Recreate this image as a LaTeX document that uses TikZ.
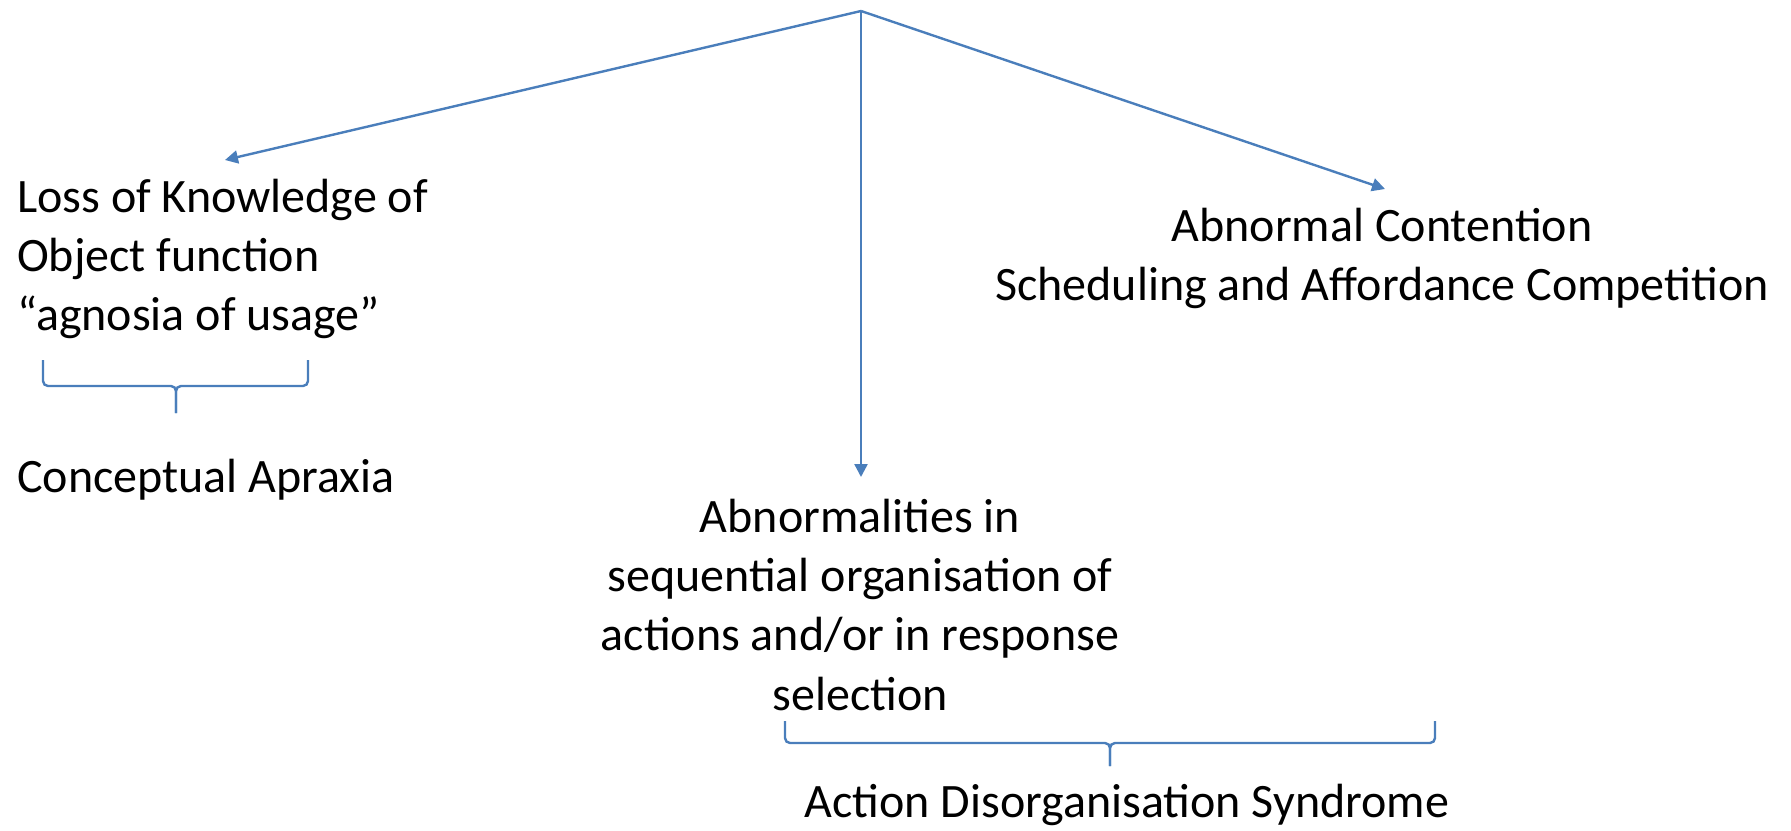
\documentclass[tikz,border=0pt]{standalone}
\usepackage{fontspec}
\setmainfont{Carlito}
\usepackage{tikz}
\usetikzlibrary{arrows.meta}
\definecolor{officeblue}{HTML}{4A7EBB}
\tikzset{
every picture/.style={line width=1.2pt, >={Triangle[length=6.5pt,width=6.5pt]}},
%%%%%%%%%%  Node styles
textblock/.style={inner sep=0pt, text=black,
                  font=\fontsize{24}{29.5}\selectfont},
%%%% different line styles:
link/.style={->, draw=officeblue},
curly/.style={draw=officeblue, rounded corners=2.5pt},
}

\begin{document}
\begin{tikzpicture}[x=0.5pt,y=-0.5pt]
\useasboundingbox (0,0) rectangle (1791,830);
\coordinate (top) at (861,11);
\node[textblock, align=left, anchor=west] (loss) at (16,259)
     {Loss of Knowledge of\\Object function\\“agnosia of usage”};
\node[textblock, anchor=west] (concept) at (16,480) {Conceptual Apraxia};
\node[textblock, align=center] (contention) at (1382,258)
     {Abnormal Contention\\Scheduling and Affordance Competition};
\node[textblock, align=center] (sequence) at (860,605)
     {Abnormalities in\\sequential organisation of\\actions and/or in response\\selection};
\node[textblock] (ads) at (1127,805) {Action Disorganisation Syndrome};
% arrow ends
\coordinate (lossend) at (225,160);
\coordinate (contend) at (1385,189);
\coordinate (seqend) at (861,477);
\draw[link] (top) -- (lossend);
\draw[link] (top) -- (contend);
\draw[link] (top) -- (seqend);
% braces
\coordinate (lbrace) at (176,386);
\coordinate (rbrace) at (1110,743);
\draw[curly] (43,360) |- (lbrace) -- (176,413);
\draw[curly] (308,360) |- (lbrace) -- (176,413);
\draw[curly] (785,721) |- (rbrace) -- (1110,766);
\draw[curly] (1435,721) |- (rbrace) -- (1110,766);
\end{tikzpicture}
\end{document}
